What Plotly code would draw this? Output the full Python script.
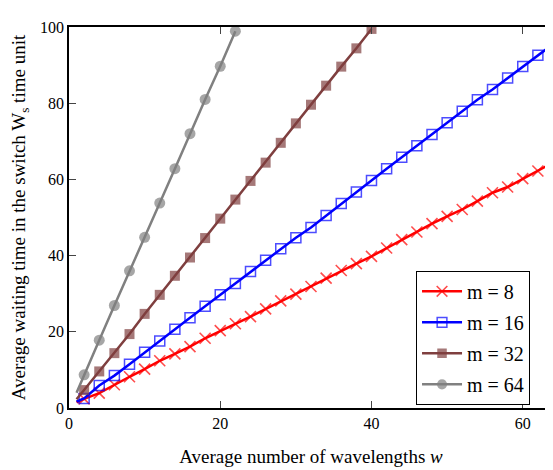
import plotly.graph_objects as go

w_8 = [1, 2, 4, 6, 8, 10, 12, 14, 16, 18, 20, 22, 24, 26, 28, 30, 32, 34, 36, 38, 40,
       42, 44, 46, 48, 50, 52, 54, 56, 58, 60, 62, 64]
ws_8 = [1.5, 2.4, 3.9, 6.1, 8.2, 10.2, 12.4, 14.2, 16.1, 18.3, 20.3, 22.1, 24.0, 26.0, 28.1,
        29.9, 31.9, 34.1, 36.1, 37.9, 39.8, 42.0, 44.2, 46.2, 48.4, 50.3, 52.1, 54.3, 56.5,
        58.0, 60.2, 62.2, 64.4]

w_16 = [1, 2, 4, 6, 8, 10, 12, 14, 16, 18, 20, 22, 24, 26, 28, 30, 32, 34, 36, 38, 40,
        42, 44, 46, 48, 50, 52, 54, 56, 58, 60, 62, 64]
ws_16 = [1.7, 2.5, 5.9, 8.5, 11.5, 14.6, 17.6, 20.7, 23.7, 26.7, 29.7, 32.7, 35.8, 38.8, 41.8,
         44.7, 47.4, 50.5, 53.7, 56.7, 59.7, 62.8, 65.8, 68.8, 71.8, 74.9, 77.9, 80.9, 83.6,
         86.6, 89.6, 92.6, 95.5]

w_32 = [1, 2, 4, 6, 8, 10, 12, 14, 16, 18, 20, 22, 24, 26, 28, 30, 32, 34, 36, 38, 40]
ws_32 = [2.3, 4.7, 9.6, 14.4, 19.4, 24.7, 29.7, 34.7, 39.5, 44.6, 49.7, 54.7, 59.6, 64.4,
         69.6, 74.7, 79.6, 84.6, 89.6, 94.4, 99.5]

w_64 = [1, 2, 4, 6, 8, 10, 12, 14, 16, 18, 20, 22]
ws_64 = [4.0, 8.7, 17.8, 26.9, 36.0, 44.8, 53.8, 62.8, 72.0, 81.0, 89.7, 98.9]

x_ticks = [0, 20, 40, 60]
y_ticks = [0, 20, 40, 60, 80, 100]

series = [
    ("m = 8", w_8, ws_8, "#FF0000", "x-thin-open", 11, 1.6),
    ("m = 16", w_16, ws_16, "#0000FF", "square-open", 10, 1.5),
    ("m = 32", w_32, ws_32, "#7F3F3F", "square", 10, 0),
    ("m = 64", w_64, ws_64, "#808080", "circle", 11, 0),
]

fig = go.Figure()
for name, xs, ys, color, sym, size, lw in series:
    sizes = [0] + [size] * (len(xs) - 1)
    fig.add_trace(go.Scatter(
        x=xs, y=ys, name=name, mode="lines+markers", legendgroup=name,
        line=dict(color=color, width=2.5),
        marker=dict(symbol=sym, size=sizes, color=color,
                    line=dict(color=color, width=lw)),
    ))

font_family = "Liberation Serif, Times New Roman, serif"
# the page body adds an 8px offset, so the figure is sized/margined to compensate
fig.update_layout(
    width=545, height=462,
    margin=dict(l=61, r=0, t=19, b=62, autoexpand=False),
    paper_bgcolor="white", plot_bgcolor="white",
    font=dict(family=font_family, size=16, color="black"),
    showlegend=True,
    legend=dict(x=0.717, y=0.36, xanchor="left", yanchor="top",
                bgcolor="white", bordercolor="black", borderwidth=1,
                font=dict(family=font_family, size=20),
                tracegroupgap=2, itemwidth=40),
)
fig.update_xaxes(
    range=[0, 64], tickvals=x_ticks, ticks="inside", ticklen=7,
    tickfont=dict(family=font_family, size=16),
    showline=True, linecolor="black", linewidth=1.5, mirror="ticks",
    showgrid=False, zeroline=False, automargin=True,
    title=dict(text="Average number of wavelengths <i>w</i>",
               font=dict(family=font_family, size=19), standoff=19),
)
fig.update_yaxes(
    range=[0, 100], tickvals=y_ticks, ticks="inside", ticklen=7,
    tickfont=dict(family=font_family, size=16),
    showline=True, linecolor="black", linewidth=1.5, mirror="ticks",
    showgrid=False, zeroline=False, automargin=True,
    title=dict(text="Average waiting time in the switch W<sub>s</sub> time unit",
               font=dict(family=font_family, size=19), standoff=12),
)

fig.write_html("out.html")
